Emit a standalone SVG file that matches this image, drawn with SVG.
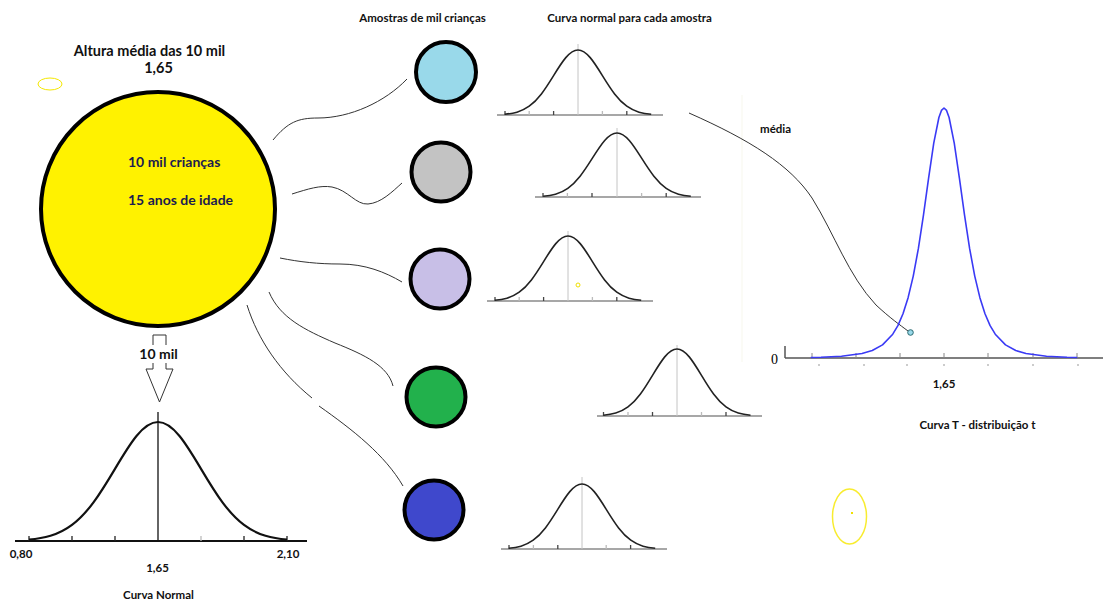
<svg xmlns="http://www.w3.org/2000/svg" xmlns:xlink="http://www.w3.org/1999/xlink" width="1108" height="603" viewBox="0 0 1108 603">
<style>
.t{font-family:Lato,"Liberation Sans",sans-serif;font-weight:bold;fill:#111}
.conn{fill:none;stroke:#333;stroke-width:1}
.ax{stroke:#8a8a8a;stroke-width:1.5}
.vl{stroke:#c4c4c4;stroke-width:1}
.tk{stroke:#444;stroke-width:1.3}
.tl{stroke:#bbb;stroke-width:1.3}
.node{stroke:#000;stroke-width:4}
</style>
<defs>
<path id="g" vector-effect="non-scaling-stroke" fill="none" d="M-3,-0.0111 C-2.8333,-0.0167 -2.6667,-0.0256 -2.5,-0.0439 C-2.3333,-0.0622 -2.1667,-0.0902 -2,-0.1353 C-1.8333,-0.1804 -1.6667,-0.2435 -1.5,-0.3247 C-1.3333,-0.4059 -1.1667,-0.5054 -1,-0.6065 C-0.8333,-0.7076 -0.6667,-0.809 -0.5,-0.8825 C-0.3333,-0.956 -0.1667,-1 0,-1 C0.1667,-1 0.3333,-0.956 0.5,-0.8825 C0.6667,-0.809 0.8333,-0.7076 1,-0.6065 C1.1667,-0.5054 1.3333,-0.4059 1.5,-0.3247 C1.6667,-0.2435 1.8333,-0.1804 2,-0.1353 C2.1667,-0.0902 2.3333,-0.0622 2.5,-0.0439 C2.6667,-0.0256 2.8333,-0.0167 3,-0.0111"/>
</defs>
<rect width="1108" height="603" fill="#fff"/>
<line x1="742" y1="95" x2="742" y2="362" stroke="#fafaf3" stroke-width="1.5"/>

<!-- header texts -->
<text class="t" x="422.5" y="22" font-size="11.5" text-anchor="middle">Amostras de mil crianças</text>
<text class="t" x="629.5" y="22" font-size="11.5" text-anchor="middle">Curva normal para cada amostra</text>

<!-- connectors -->
<g id="connectors">
<path class="conn" d="M273,140 C288,122 298,118 318,118 C350,118 385,102 407,79"/>
<path class="conn" d="M292,194 C308,189 320,185 332,187 C348,190 356,205 368,204 C381,203 392,192 402,183"/>
<path class="conn" d="M280,258 C300,262 318,264 340,264 C365,264 385,272 402,282"/>
<path class="conn" d="M269,292 C280,318 305,330 335,343 C365,355 388,366 393,386"/>
<path class="conn" d="M247,305 C258,340 280,372 312,398"/>
<path class="conn" d="M319,406 C353,430 385,455 403,486"/>
<path class="conn" d="M689,113 C750,140 790,165 812,198 C835,235 848,275 876,305 C890,318 900,325 908,331"/>
</g>

<!-- big population node -->
<g id="population">
<text class="t" x="149.5" y="56" font-size="14.5" text-anchor="middle">Altura média das 10 mil</text>
<text class="t" x="158.5" y="73" font-size="14.5" text-anchor="middle">1,65</text>
<ellipse cx="50" cy="84" rx="12" ry="6" fill="none" stroke="#f5e800" stroke-width="1"/>
<circle cx="158" cy="209" r="117" fill="#fff200" stroke="#000" stroke-width="4"/>
<text x="128" y="167" font-family="Lato,'Liberation Sans',sans-serif" font-size="14" font-weight="bold" fill="#1c1c50">10 mil crianças</text>
<text x="128" y="205" font-family="Lato,'Liberation Sans',sans-serif" font-size="14" font-weight="bold" fill="#1c1c50">15 anos de idade</text>
</g>

<!-- arrow -->
<g id="arrow">
<polygon points="153,335 166,335 166,369 173,369 159.5,402 146,369 153,369" fill="#fff" stroke="#333" stroke-width="1"/>
<rect x="139" y="345" width="40" height="18" fill="#fff"/>
<text class="t" x="158.5" y="359" font-size="14" text-anchor="middle">10 mil</text>
</g>

<!-- big normal curve -->
<g id="curva-normal">
<line x1="15" y1="541" x2="307" y2="541" stroke="#111" stroke-width="2"/>
<line x1="158" y1="412" x2="158" y2="541" stroke="#111" stroke-width="1.3"/>
<g stroke="#222" stroke-width="1.3">
<line x1="29" y1="536" x2="29" y2="541"/><line x1="72" y1="536" x2="72" y2="541"/><line x1="115" y1="536" x2="115" y2="541"/>
<line x1="244" y1="536" x2="244" y2="541"/><line x1="287" y1="536" x2="287" y2="541"/>
</g>
<line x1="201" y1="536" x2="201" y2="541" stroke="#bbb" stroke-width="1.3"/>
<use href="#g" transform="translate(158,541) scale(43,119)" stroke="#111" stroke-width="2.2"/>
<text class="t" x="21" y="558" font-size="11.5" text-anchor="middle">0,80</text>
<text class="t" x="288" y="558" font-size="11.5" text-anchor="middle">2,10</text>
<text class="t" x="157.5" y="572" font-size="11.5" text-anchor="middle">1,65</text>
<text class="t" x="158.5" y="599" font-size="11.5" text-anchor="middle">Curva Normal</text>
</g>

<!-- sample nodes -->
<g id="amostra1"><circle class="node" cx="446" cy="72" r="30" fill="#99d9ea"/></g>
<g id="amostra2"><circle class="node" cx="441" cy="172" r="29.5" fill="#c3c3c3"/></g>
<g id="amostra3"><circle class="node" cx="440" cy="279" r="29.5" fill="#c8bfe7"/></g>
<g id="amostra4"><circle class="node" cx="436" cy="397" r="29.5" fill="#22b14c"/></g>
<g id="amostra5"><circle class="node" cx="434" cy="510" r="29.5" fill="#3f48cc"/></g>

<!-- sample curves -->
<g id="curva1">
<line class="ax" x1="497" y1="115" x2="663" y2="115"/>
<line class="vl" x1="578" y1="44" x2="578" y2="115"/>
<line class="tk" x1="505" y1="111" x2="505" y2="115"/><line class="tl" x1="529.2" y1="111" x2="529.2" y2="115"/><line class="tk" x1="553.6" y1="111" x2="553.6" y2="115"/>
<line class="tl" x1="602.4" y1="111" x2="602.4" y2="115"/><line class="tk" x1="626.8" y1="111" x2="626.8" y2="115"/>
<use href="#g" transform="translate(578,115) scale(24.4,65)" stroke="#222" stroke-width="1.6"/>
</g>
<g id="curva2">
<line class="ax" x1="535" y1="197" x2="701" y2="197"/>
<line class="vl" x1="617" y1="128" x2="617" y2="197"/>
<line class="tk" x1="543" y1="193" x2="543" y2="197"/><line class="tl" x1="567.4" y1="193" x2="567.4" y2="197"/><line class="tk" x1="592" y1="193" x2="592" y2="197"/>
<line class="tl" x1="641.6" y1="193" x2="641.6" y2="197"/><line class="tk" x1="666.2" y1="193" x2="666.2" y2="197"/>
<use href="#g" transform="translate(617,197) scale(24.6,64)" stroke="#222" stroke-width="1.6"/>
</g>
<g id="curva3">
<line class="ax" x1="487" y1="301" x2="653" y2="301"/>
<line class="vl" x1="568" y1="231" x2="568" y2="301"/>
<line class="tk" x1="495" y1="297" x2="495" y2="301"/><line class="tl" x1="519.2" y1="297" x2="519.2" y2="301"/><line class="tk" x1="543.6" y1="297" x2="543.6" y2="301"/>
<line class="tl" x1="592.4" y1="297" x2="592.4" y2="301"/><line class="tk" x1="616.8" y1="297" x2="616.8" y2="301"/>
<use href="#g" transform="translate(568,301) scale(24.4,65)" stroke="#222" stroke-width="1.6"/>
<circle cx="578" cy="285" r="2" fill="none" stroke="#f0e000" stroke-width="1"/>
</g>
<g id="curva4">
<line class="ax" x1="597" y1="416" x2="762" y2="416"/>
<line class="vl" x1="677" y1="345" x2="677" y2="416"/>
<line class="tk" x1="603.5" y1="412" x2="603.5" y2="416"/><line class="tl" x1="628" y1="412" x2="628" y2="416"/><line class="tk" x1="652.5" y1="412" x2="652.5" y2="416"/>
<line class="tl" x1="701.5" y1="412" x2="701.5" y2="416"/><line class="tk" x1="726" y1="412" x2="726" y2="416"/>
<use href="#g" transform="translate(677,416) scale(24.5,67)" stroke="#222" stroke-width="1.6"/>
</g>
<g id="curva5">
<line class="ax" x1="501" y1="549" x2="667" y2="549"/>
<line class="vl" x1="582" y1="477" x2="582" y2="549"/>
<line class="tk" x1="509" y1="545" x2="509" y2="549"/><line class="tl" x1="533.4" y1="545" x2="533.4" y2="549"/><line class="tk" x1="557.8" y1="545" x2="557.8" y2="549"/>
<line class="tl" x1="606.2" y1="545" x2="606.2" y2="549"/><line class="tk" x1="630.6" y1="545" x2="630.6" y2="549"/>
<use href="#g" transform="translate(582,549) scale(24.4,65)" stroke="#222" stroke-width="1.6"/>
</g>

<!-- T distribution -->
<g id="curva-t">
<text class="t" x="760" y="133" font-size="11.5">média</text>
<line x1="785" y1="358" x2="1103" y2="358" stroke="#555" stroke-width="1.5"/>
<line x1="785" y1="346" x2="785" y2="358" stroke="#555" stroke-width="1.5"/>
<g stroke="#888" stroke-width="1">
<line x1="812" y1="353" x2="812" y2="358"/><line x1="856" y1="353" x2="856" y2="358"/><line x1="900" y1="353" x2="900" y2="358"/><line x1="944" y1="353" x2="944" y2="358"/><line x1="988" y1="353" x2="988" y2="358"/><line x1="1033" y1="353" x2="1033" y2="358"/><line x1="1077" y1="353" x2="1077" y2="358"/>
</g>
<g stroke="#999" stroke-width="1">
<line x1="818" y1="365" x2="820" y2="365"/><line x1="863" y1="365" x2="865" y2="365"/><line x1="906" y1="365" x2="908" y2="365"/><line x1="943" y1="365" x2="945" y2="365"/><line x1="987" y1="365" x2="989" y2="365"/><line x1="1032" y1="365" x2="1034" y2="365"/><line x1="1077" y1="365" x2="1079" y2="365"/>
</g>
<text x="771" y="364" font-family="'Liberation Serif',serif" font-size="14" fill="#000">0</text>
<polyline fill="none" stroke="#3a3af5" stroke-width="1.6" stroke-linejoin="round" points="810.75,357.45 821,357.2 841.5,356.2 862,353.5 872.25,350.5 882.5,344.9 892.75,334.2 897.9,325.65 903,313.8 908.1,297.65 913.25,276.1 918.4,248.4 923.5,214.9 928.6,178.1 933.75,143.15 938.9,117.5 941.44,110.4 944,108 946.56,110.4 949.1,117.5 954.25,143.15 959.4,178.1 964.5,214.9 969.6,248.4 974.75,276.1 979.9,297.65 985,313.8 990.1,325.65 995.25,334.2 1005.5,344.9 1015.75,350.5 1026,353.5 1046.5,356.2 1067,357.2 1077.25,357.45"/>
<circle cx="910.5" cy="332.5" r="2.8" fill="#99d9ea" stroke="#2a6a70" stroke-width="1"/>
<text class="t" x="944" y="388" font-size="11.5" text-anchor="middle">1,65</text>
<text class="t" x="977.5" y="429" font-size="11.5" text-anchor="middle">Curva T - distribuição t</text>
</g>

<ellipse cx="849.5" cy="516.5" rx="17" ry="27.5" fill="none" stroke="#f8ec30" stroke-width="1.5"/>
<rect x="851" y="512" width="2" height="2" fill="#f0e000"/>
</svg>
